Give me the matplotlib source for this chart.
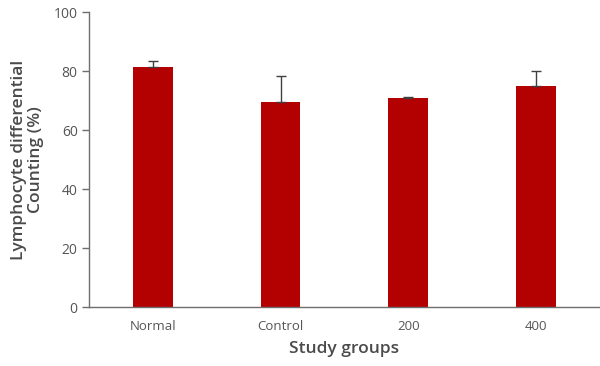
import matplotlib
matplotlib.use("Agg")
import matplotlib.pyplot as plt

groups = ["Normal", "Control", "200", "400"]
lymph_pct = [81.4, 69.5, 70.9, 75.2]
lymph_sd = [2.1, 8.9, 0.4, 5.0]
y_ticks = [0, 20, 40, 60, 80, 100]

plt.rcParams["font.family"] = ["Open Sans", "DejaVu Sans"]

fig = plt.figure(figsize=(6.0, 3.66), dpi=100)
ax = fig.add_axes([0.148, 0.161, 0.852, 0.805])

x = range(len(groups))
ax.bar(x, lymph_pct, width=0.31, color="#b30000", zorder=2)
ax.errorbar(x, lymph_pct, yerr=[[0] * len(lymph_sd), lymph_sd], fmt="none",
            ecolor="#404040", elinewidth=1.0, capsize=3.5, capthick=1.0, zorder=3)

ax.set_xlim(-0.5, 3.5)
ax.set_ylim(0, 100)
ax.set_yticks(y_ticks)
ax.set_xticks(list(x))
ax.set_xticklabels(groups)

for side in ("top", "right"):
    ax.spines[side].set_visible(False)
for side in ("left", "bottom"):
    ax.spines[side].set_color("#6e6e6e")
    ax.spines[side].set_linewidth(1.0)

ax.tick_params(axis="y", direction="out", length=5, width=1, color="#6e6e6e",
               labelsize=10, labelcolor="#555555", pad=3)
ax.tick_params(axis="x", length=0, labelsize=9.5, labelcolor="#555555", pad=9)

ax.set_xlabel("Study groups", fontsize=12.5, color="#4a4a4a", fontweight="semibold", labelpad=6)
ax.set_ylabel("Lymphocyte differential\nCounting (%)", fontsize=12.5, color="#4a4a4a",
              fontweight="semibold", labelpad=7, linespacing=1.05)

fig.savefig("out.png", dpi=100)
